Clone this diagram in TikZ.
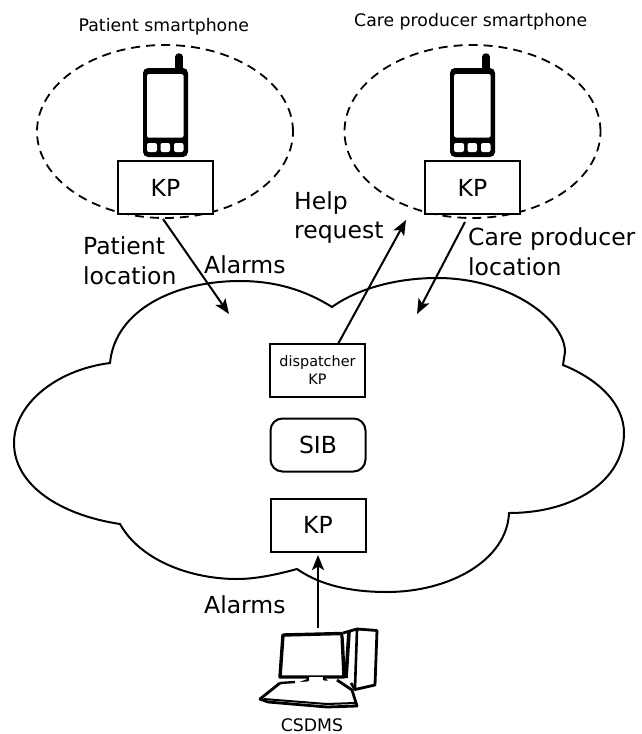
\documentclass[tikz,border=0pt]{standalone}
\usepackage{fontspec}
\setmainfont{DejaVu Sans}
\usetikzlibrary{arrows.meta,shapes.geometric}
\tikzset{
  box/.style={draw=black,line width=2pt,fill=white,inner sep=0pt,minimum width=95pt,minimum height=53pt,font=\fontsize{23.5}{28}\selectfont},
  smallbox/.style={box,font=\fontsize{14.4}{18}\selectfont,align=center},
  roundbox/.style={box,rounded corners=12pt},
  bubble/.style={draw=black,dashed,dash pattern=on 9pt off 6pt,line width=1.8pt,ellipse,inner sep=0pt,minimum width=256pt,minimum height=173pt},
  big/.style={anchor=base west,inner sep=0pt,font=\fontsize{23.5}{29.5}\selectfont,align=left},
  small/.style={anchor=base west,inner sep=0pt,font=\fontsize{17.3}{20}\selectfont},
  link/.style={draw=black,line width=2pt,-{Stealth[length=15pt,width=12pt,inset=3.5pt]}},
  cloudline/.style={draw=black,line width=2pt},
}
\newcommand{\phoneicon}[1]{%
  \begin{scope}[xshift=#1pt]
    \draw[line width=7.5pt,line cap=round] (179,57) -- (179,72);
    \fill[black,rounded corners=5pt] (143,68) rectangle (188,157);
    \fill[white,rounded corners=1.5pt] (147,74) rectangle (183.5,137.5);
    \fill[white,rounded corners=2pt] (147,143) rectangle (157,152);
    \fill[white,rounded corners=2pt] (160.5,143) rectangle (170,152);
    \fill[white,rounded corners=2pt] (174,143) rectangle (183.5,152);
  \end{scope}}
\begin{document}
\begin{tikzpicture}[x=1pt,y=-1pt]
\useasboundingbox (0,0) rectangle (641,734);
% cloud
\draw[cloudline,line join=miter] (110,363)
  .. controls (115,310) and (175,281) .. (240,281)
  .. controls (275,281) and (305,290) .. (332,307)
  .. controls (360,287) and (400,278) .. (437,278)
  .. controls (510,278) and (565,320) .. (565,352)
  -- (563,365)
  .. controls (600,380) and (624,405) .. (624,433)
  .. controls (624,480) and (575,513) .. (509,513)
  .. controls (507,560) and (450,592) .. (387,592)
  .. controls (350,592) and (320,585) .. (297,569)
  .. controls (275,575) and (255,579) .. (237,579)
  .. controls (190,579) and (140,560) .. (120,524)
  .. controls (60,515) and (14,485) .. (14,443)
  .. controls (14,405) and (55,370) .. cycle;
% ellipses
\node[bubble] (bubbleA) at (165,131.5) {};
\node[bubble] (bubbleB) at (472.5,131.5) {};
% phones
\phoneicon{0}
\phoneicon{307}
% boxes
\node[box] (kpA) at (165.5,187.5) {KP};
\node[box] (kpB) at (472.5,187.5) {KP};
\node[smallbox] (disp) at (317.5,370.5) {dispatcher\\KP};
\node[roundbox] (sib) at (318,445) {SIB};
\node[box] (kpC) at (318,525) {KP};
% labels
\node[small] (lblA) at (78.5,31) {Patient smartphone};
\node[small] (lblB) at (354,26) {Care producer smartphone};
\node[big] (lblPL) at (83,284) {Patient\\location};
\node[big] (lblAl) at (204,273) {Alarms};
\node[big] (lblHR) at (294,238.5) {Help\\request};
\node[big] (lblCP) at (468,275) {Care producer\\location};
\node[big] (lblAlb) at (204,613) {Alarms};
\node[small,anchor=base] (lblCS) at (312,731.5) {CSDMS};
% computer
\coordinate (pc) at (318,628);
\begin{scope}[line join=round,draw=black]
  \draw[line width=3.4pt,fill=white] (283,635) -- (342,633.5) -- (344,677) -- (280,677) -- cycle;
  \draw[line width=2.8pt,fill=white] (343,633) -- (357,629) -- (377,630.5) -- (375,685) -- (355,689.5) -- (351,683);
  \draw[line width=2.6pt] (357,630) -- (355,688);
  \draw[line width=3.6pt] (349,632) -- (346,678);
  \draw[line width=2.4pt,fill=white] (308,677) -- (308,680) -- (295,685) -- (331,688) -- (331,684) -- (324,679) -- (324,677);
  \draw[line width=2.8pt,fill=white] (280,683) -- (260,699) -- (268,702) -- (327,707) -- (357,706) -- (352,690) -- (337,680);
  \draw[line width=2.4pt] (280,683) -- (295,682);
  \draw[line width=2pt] (264,699) -- (270,699.5) -- (327,704) -- (355,703);
\end{scope}
% connectors
\coordinate (endA) at (229,314);
\coordinate (startA) at (163,219);
\coordinate (endB) at (417,314);
\coordinate (startB) at (465,222);
\coordinate (startH) at (338,344);
\coordinate (endH) at (406,220);
\coordinate (tipC) at (318,555);
\draw[link] (startA) -- (endA);
\draw[link] (startB) -- (endB);
\draw[link] (startH) -- (endH);
\draw[link] (pc) -- (tipC);
\end{tikzpicture}
\end{document}
